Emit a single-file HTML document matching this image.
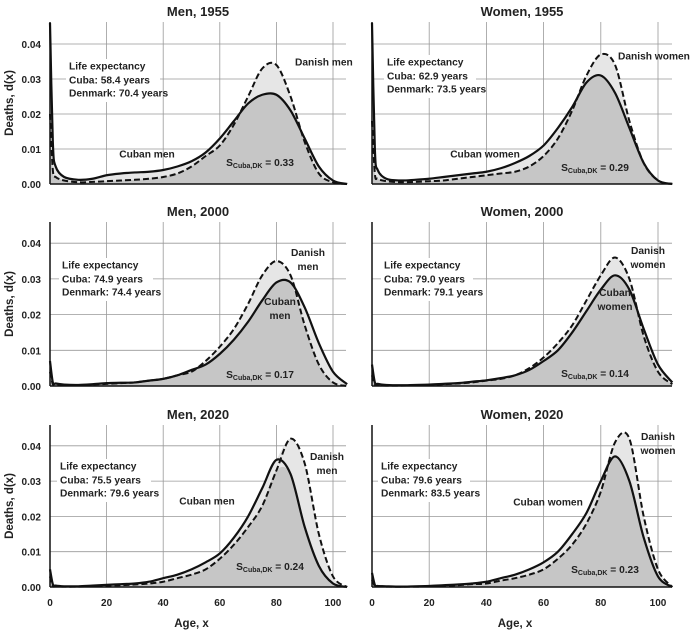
<!DOCTYPE html>
<html><head><meta charset="utf-8"><style>
body{margin:0;background:#fff;}
svg{display:block;font-family:"Liberation Sans",Arial,sans-serif;}
.t{font-weight:bold;font-size:13px;fill:#222;}
.lab{font-size:10.2px;fill:#222;font-weight:bold;dominant-baseline:central;}
.tk{font-size:10px;fill:#222;font-weight:bold;}
</style></head><body>
<svg id="c" width="690" height="630" viewBox="0 0 690 630"></svg>
<script>
const ages=[0,1,2,5,10,15,20,25,30,35,40,45,50,55,60,65,70,75,80,85,90,95,100,105];
const cubaM1955=[0.046,0.012,0.005,0.002,0.0012,0.0015,0.0025,0.003,0.0033,0.0035,0.004,0.005,0.0065,0.009,0.013,0.018,0.023,0.0255,0.0255,0.021,0.013,0.005,0.001,0];
const denM1955=[0.02,0.004,0.002,0.001,0.0005,0.0006,0.0008,0.001,0.0012,0.0015,0.002,0.003,0.005,0.008,0.011,0.017,0.025,0.033,0.034,0.025,0.012,0.003,0.0005,0];
const cubaW1955=[0.046,0.01,0.004,0.0015,0.001,0.0012,0.0015,0.002,0.0025,0.003,0.0035,0.0045,0.006,0.008,0.011,0.016,0.022,0.029,0.031,0.026,0.016,0.006,0.001,0];
const denW1955=[0.018,0.003,0.0015,0.0008,0.0005,0.0006,0.0008,0.001,0.0015,0.002,0.0025,0.003,0.0035,0.005,0.008,0.013,0.021,0.031,0.037,0.034,0.018,0.006,0.001,0];
const cubaM2000=[0.007,0.001,0.0007,0.0004,0.0003,0.0005,0.0008,0.0009,0.001,0.0015,0.002,0.003,0.0045,0.006,0.009,0.013,0.018,0.024,0.029,0.029,0.022,0.012,0.004,0.0005];
const denM2000=[0.004,0.0005,0.0003,0.0002,0.0002,0.0004,0.0006,0.0008,0.001,0.0015,0.002,0.003,0.004,0.007,0.011,0.016,0.023,0.031,0.035,0.031,0.017,0.006,0.001,0];
const cubaW2000=[0.006,0.001,0.0006,0.0003,0.0002,0.0003,0.0004,0.0006,0.0008,0.0012,0.0016,0.0022,0.003,0.0045,0.007,0.01,0.015,0.021,0.027,0.031,0.027,0.016,0.006,0.001];
const denW2000=[0.003,0.0004,0.0002,0.0001,0.0001,0.0002,0.0003,0.0005,0.0007,0.001,0.0015,0.002,0.003,0.005,0.008,0.012,0.017,0.024,0.031,0.036,0.03,0.014,0.004,0.0005];
const cubaM2020=[0.005,0.0008,0.0004,0.0002,0.0002,0.0004,0.0006,0.0008,0.001,0.0015,0.0025,0.0035,0.005,0.007,0.0095,0.014,0.02,0.028,0.036,0.032,0.017,0.006,0.001,0];
const denM2020=[0.003,0.0003,0.0002,0.0001,0.0001,0.0002,0.0004,0.0005,0.0007,0.001,0.0015,0.0025,0.0035,0.005,0.008,0.012,0.017,0.023,0.033,0.042,0.035,0.015,0.003,0];
const cubaW2020=[0.004,0.0006,0.0003,0.0002,0.0001,0.0002,0.0003,0.0005,0.0007,0.001,0.0015,0.0025,0.0035,0.005,0.007,0.01,0.015,0.021,0.03,0.037,0.03,0.014,0.003,0];
const denW2020=[0.002,0.0003,0.0002,0.0001,0.0001,0.0001,0.0002,0.0003,0.0005,0.0008,0.001,0.0018,0.0025,0.0035,0.005,0.008,0.012,0.018,0.027,0.041,0.042,0.02,0.005,0];
const xTicks=[0,20,40,60,80,100];
const yTicks=[0,0.01,0.02,0.03,0.04];
const titles=["Men, 1955","Women, 1955","Men, 2000","Women, 2000","Men, 2020","Women, 2020"];
const lifeCuba=["58.4","62.9","74.9","79.0","75.5","79.6"];
const lifeDen=["70.4","73.5","74.4","79.1","79.6","83.5"];
const sVals=["0.33","0.29","0.17","0.14","0.24","0.23"];
const series=[[cubaM1955,denM1955],[cubaW1955,denW1955],[cubaM2000,denM2000],[cubaW2000,denW2000],[cubaM2020,denM2020],[cubaW2020,denW2020]];

const svg=document.getElementById('c');const NS="http://www.w3.org/2000/svg";
function mk(tag,attrs,parent,txt){const e=document.createElementNS(NS,tag);for(const k in attrs)e.setAttribute(k,attrs[k]);if(txt!==undefined)e.textContent=txt;(parent||svg).appendChild(e);return e;}
const cols=[{x0:50,k:2.83,right:346},{x0:372,k:2.86,right:672}];
const rows=[{y0:184,h:35,top:22,title:12},{y0:386,h:35.7,top:222,title:212},{y0:587,h:35.3,top:425,title:415}];
const boxLayout=[[69,67],[387,63],[62,266],[384,266],[60,467],[381,467]];
const cubLayout=[[147,155,1],[485,155,1],[280,302,2],[615,293,2],[207,502,1],[548,503,1]];
const denLayout=[[295,63,0],[618,57,0],[308,253,2],[648,251,2],[327,457,2],[658,437,2]];
const sLayout=[[260,163],[595,168],[260,375],[595,374],[270,567],[605,570]];
function smooth(pts){let d="M"+pts[0][0]+","+pts[0][1];for(let i=0;i<pts.length-1;i++){const p0=pts[Math.max(0,i-1)],p1=pts[i],p2=pts[i+1],p3=pts[Math.min(pts.length-1,i+2)];const t=0.16;d+=" C"+(p1[0]+(p2[0]-p0[0])*t)+","+(p1[1]+(p2[1]-p0[1])*t)+" "+(p2[0]-(p3[0]-p1[0])*t)+","+(p2[1]-(p3[1]-p1[1])*t)+" "+p2[0]+","+p2[1];}return d;}
for(let p=0;p<6;p++){
 const c=cols[p%2],r=rows[Math.floor(p/2)];
 const X=a=>c.x0+a*c.k, Y=v=>Math.max(r.top,r.y0-v*100*r.h);
 const g=mk('g',{},svg);
 
 
 const tt=mk('text',{x:(c.x0+c.right)/2,y:r.title+4,'text-anchor':'middle',class:'t'},g,titles[p]);
 
 for(const t of xTicks){if(t===0)continue;const l=mk('line',{x1:X(t),x2:X(t),y1:r.top,y2:r.y0,stroke:'#999','stroke-width':0.8},g);}
 for(const t of yTicks){if(t===0)continue;const l=mk('line',{x1:c.x0,x2:c.right,y1:Y(t),y2:Y(t),stroke:'#999','stroke-width':0.8},g);}
 const [cu,dn]=series[p];
 const pc=ages.map((a,i)=>[X(a),Y(cu[i])]), pd=ages.map((a,i)=>[X(a),Y(dn[i])]);
 const pmax=ages.map((a,i)=>[X(a),Y(Math.max(cu[i],dn[i]))]), pmin=ages.map((a,i)=>[X(a),Y(Math.min(cu[i],dn[i]))]);
 const close=" L"+X(105)+","+r.y0+" L"+X(0)+","+r.y0+" Z";
 const f1=mk('path',{d:smooth(pmax)+close,fill:'#e6e6e6'},g);
 const f2=mk('path',{d:smooth(pmin)+close,fill:'#c6c6c6'},g);
 const [bxx,byy]=boxLayout[p];
 const bg=mk('rect',{x:bxx-3,y:byy-8,width:p%2?92:94,height:43,fill:'#fff'},g);
 const ld=mk('path',{d:smooth(pd),fill:'none',stroke:'#111','stroke-width':2,'stroke-dasharray':'6,3'},g);
 const lc=mk('path',{d:smooth(pc),fill:'none',stroke:'#111','stroke-width':2.2},g);
 const ax=mk('line',{x1:c.x0,x2:c.x0,y1:r.top,y2:r.y0,stroke:'#111','stroke-width':1.5},g);
 const bx=mk('line',{x1:c.x0,x2:c.right,y1:r.y0,y2:r.y0,stroke:'#111','stroke-width':1.5},g);
 if(p%2===0){for(const t of yTicks){const e=mk('text',{x:c.x0-9,y:Y(t)+4,'text-anchor':'end',class:'tk'},g,t.toFixed(2));}
  const yt=mk('text',{x:0,y:0,transform:'translate(13,'+((r.top+r.y0)/2)+') rotate(-90)','text-anchor':'middle',class:'t',style:'font-size:11.5px'},g,'Deaths, d(x)');}
 if(p>=4){for(const t of xTicks){const e=mk('text',{x:X(t),y:r.y0+19,'text-anchor':'middle',class:'tk'},g,String(t));}
  const xt=mk('text',{x:X(50),y:r.y0+40,'text-anchor':'middle',class:'t',style:'font-size:11.5px'},g,'Age, x');}
 const l1=mk('text',{x:bxx,y:byy,class:'lab'},g,'Life expectancy');
 const l2=mk('text',{x:bxx,y:byy+14,class:'lab'},g,'Cuba: '+lifeCuba[p]+' years');
 const l3=mk('text',{x:bxx,y:byy+27,class:'lab'},g,'Denmark: '+lifeDen[p]+' years');
 const sex=p%2?'women':'men';
 const [cx,cy,cm]=cubLayout[p];
 let cl;
 if(cm===2){cl=mk('text',{x:cx,y:cy,'text-anchor':'middle',class:'lab'},g);mk('tspan',{x:cx,y:cy},cl,'Cuban');mk('tspan',{x:cx,y:cy+14},cl,sex);}
 else cl=mk('text',{x:cx,y:cy,'text-anchor':'middle',class:'lab'},g,'Cuban '+sex);
 
 const [dx,dy,dm]=denLayout[p];
 let dl;
 if(dm===2){dl=mk('text',{x:dx,y:dy,'text-anchor':'middle',class:'lab'},g);mk('tspan',{x:dx,y:dy},dl,'Danish');mk('tspan',{x:dx,y:dy+14},dl,sex);}
 else dl=mk('text',{x:dx,y:dy,'text-anchor':'start',class:'lab'},g,'Danish '+sex);
 
 const [sx,sy]=sLayout[p];
 const st=mk('text',{x:sx,y:sy,'text-anchor':'middle',class:'lab'},g);
 mk('tspan',{},st,'S');mk('tspan',{dy:3,style:'font-size:7px'},st,'Cuba,DK');mk('tspan',{dy:-3},st,' = '+sVals[p]);
 
}
</script>
</body></html>
